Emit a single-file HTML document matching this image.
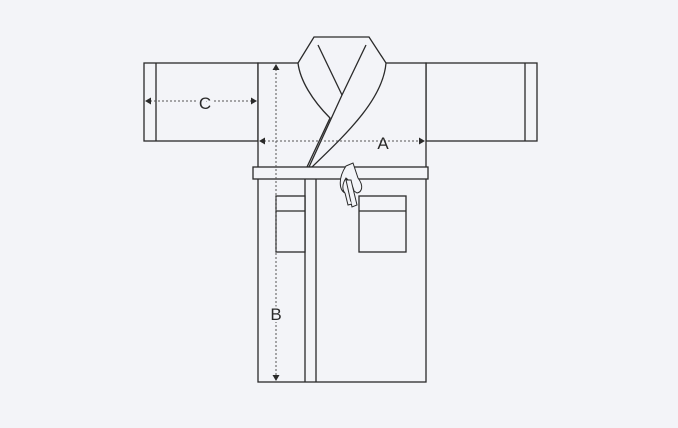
<!DOCTYPE html>
<html><head><meta charset="utf-8"><style>html,body{margin:0;background:#f3f4f8}svg{display:block}</style></head>
<body>
<svg width="678" height="428" viewBox="0 0 678 428" xmlns="http://www.w3.org/2000/svg">
<rect width="678" height="428" fill="#f3f4f8"/>
<g fill="#f3f4f8" stroke="#2a2a2a" stroke-width="1.3">
<g>
<rect x="144" y="63" width="114" height="78"/><line x1="156" y1="63" x2="156" y2="141"/></g>
<g>
<rect x="426" y="63" width="111" height="78"/><line x1="525" y1="63" x2="525" y2="141"/></g>
<rect x="258" y="63" width="168" height="319"/>
<g>
<path d="M314 37 L369 37 L386 63 C383 100 345 135 312 167 L307 167 L330 118 C312 100 300 80 298 63 Z"/>
<path d="M318 45 L342 95" fill="none"/>
<path d="M366 45 L342 95 L309 167" fill="none"/>
</g>
<line x1="305" y1="179" x2="305" y2="382"/>
<line x1="316" y1="179" x2="316" y2="382"/>
<rect x="253" y="167" width="175" height="12"/>
<g><rect x="276" y="196" width="29" height="56"/><line x1="276" y1="211" x2="305" y2="211"/></g>
<g><rect x="359" y="196" width="47" height="56"/><line x1="359" y1="211" x2="406" y2="211"/></g>
<g stroke-width="1">
<path d="M346 166 L353 163 L358 178 C364 186 362 192 357 193 L354 191 C353 186 349 180 346 178 C342 184 342 190 345 193 C339 190 338 178 346 166 Z"/>
<path d="M346 180 L352 207 L357 205 L351 180 Z"/>
<path d="M345 193 L348 205 L352 204"/>
</g>
</g>
<g stroke="#555" stroke-width="1" stroke-dasharray="2 2" fill="none">
<line x1="264" y1="141" x2="420" y2="141"/>
<line x1="276" y1="69" x2="276" y2="376"/>
<line x1="150" y1="101" x2="252" y2="101"/>
</g>
<g fill="#2a2a2a">
<path d="M259 141 l6 -3.5 v7z"/><path d="M425 141 l-6 -3.5 v7z"/>
<path d="M276 64 l-3.5 6 h7z"/><path d="M276 381 l-3.5 -6 h7z"/>
<path d="M145 101 l6 -3.5 v7z"/><path d="M257 101 l-6 -3.5 v7z"/>
</g>
<g font-family="Liberation Sans, sans-serif" font-size="17" fill="#2a2a2a" text-anchor="middle">
<text x="383" y="149">A</text>
<text x="276" y="320" style="paint-order:stroke" stroke="#f3f4f8" stroke-width="4">B</text>
<text x="205" y="109" style="paint-order:stroke" stroke="#f3f4f8" stroke-width="4">C</text>
</g>
</svg>
</body></html>
